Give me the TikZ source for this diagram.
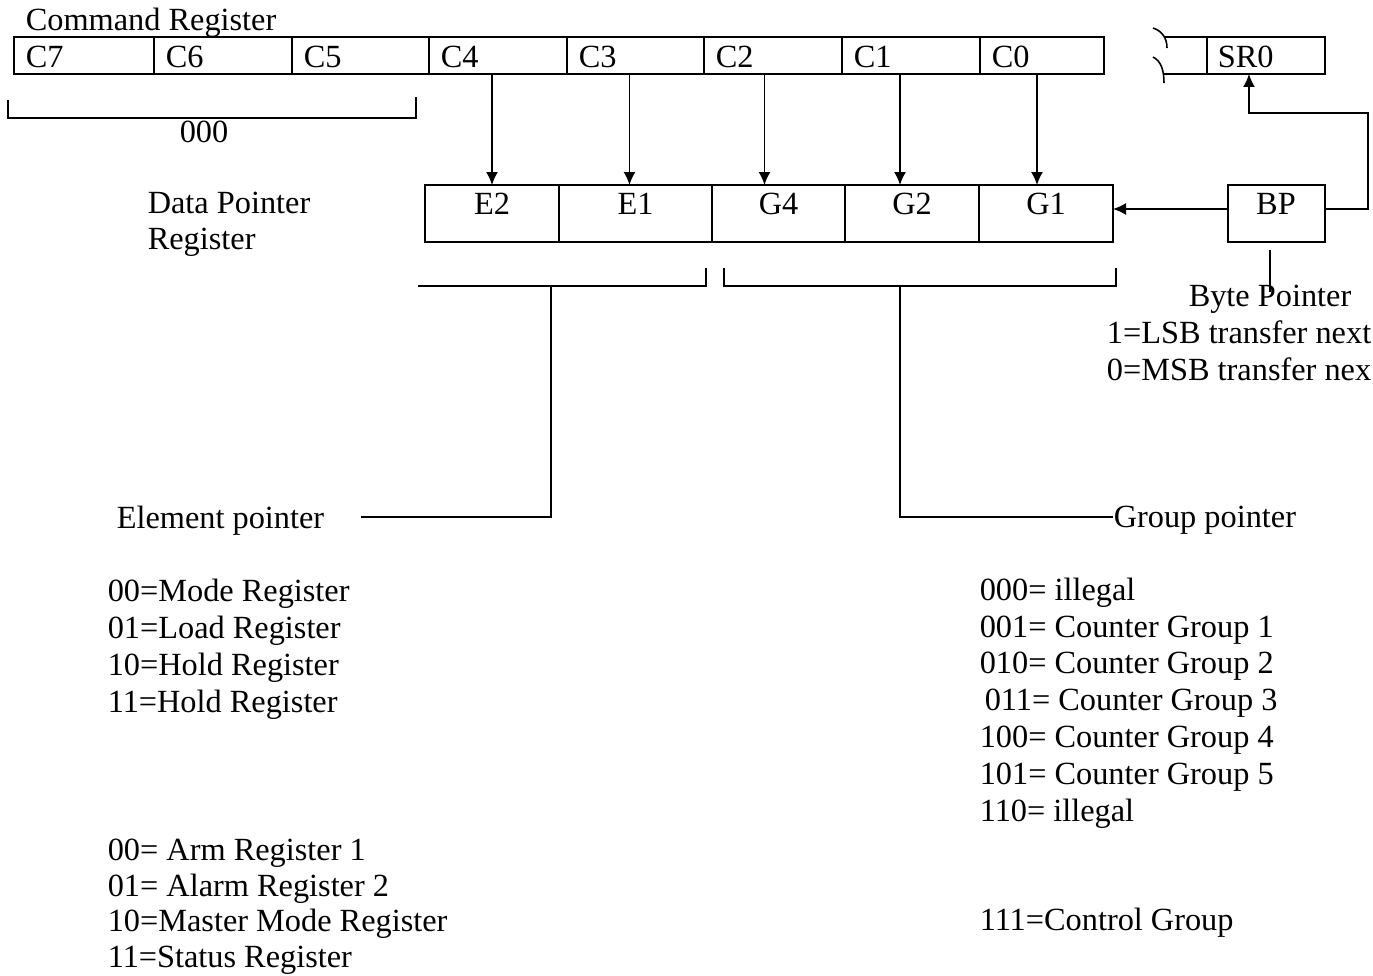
\documentclass[tikz,border=0pt]{standalone}
\usepackage{fontspec}
\setmainfont{Liberation Serif}
\usetikzlibrary{arrows.meta,positioning,calc}

\begin{document}
\begin{tikzpicture}[x=0.02cm, y=-0.02cm, line width=0.9pt,
  >={Latex[length=2.6mm,width=2.4mm]},
  txt/.style={font=\fontsize{18.4}{22}\selectfont, inner sep=0pt},
  cell/.style={draw, inner sep=0pt, outer sep=0pt, anchor=north west}]
\useasboundingbox (0,0) rectangle (1373,975);
% command register C7..C0
\node[txt, anchor=base west] (cmdlbl) at (25,30) {Command Register};
\foreach \xa/\xb/\n in {14/154/7,154/292/6,292/429/5,429/567/4,567/704/3,704/842/2,842/980/1,980/1104/0}{
  \node[cell, minimum width=(\xb-\xa)*0.02cm, minimum height=0.74cm] (c\n) at (\xa,37) {};
  \node[txt, anchor=base west] (c\n lbl) at (\xa+11,67) {C\n};
}
% status register, broken at the left
\node[cell, minimum width=2.36cm, minimum height=0.74cm] (sr0) at (1207,37) {};
\node[txt, anchor=base west] (sr0lbl) at (1217,67) {SR0};
\draw (sr0.north west) -- ++(-42,0);
\draw (sr0.south west) -- ++(-43,0);
\draw (1153,28) .. controls (1162,31) and (1167,38) .. (1167,48);
\draw (1153,57) .. controls (1161,61) and (1164,70) .. (1164,83);
% C7..C5 bracket
\draw (8,100) -- (8,118) -- (416,118) -- (416,97);
\node[txt, anchor=base] (zero) at (204,142) {000};
% data pointer register
\node[txt, anchor=base west] (dplbl) at (147,213) {Data Pointer};
\node[txt, anchor=base west] (dplbl2) at (147,249) {Register};
\foreach \xa/\xb/\n in {425/559/E2,559/712/E1,712/845/G4,845/979/G2,979/1113/G1}{
  \node[cell, minimum width=(\xb-\xa)*0.02cm, minimum height=1.14cm] (dp\n) at (\xa,185) {};
  \node[txt, anchor=base] (dp\n lbl) at ({(\xa+\xb)/2},214) {\n};
}
\foreach \c/\d/\s in {4/E2/0,3/E1/-0.12,2/G4/-0.28,1/G2/-0.24,0/G1/-0.18}
  \draw[->] ([xshift=\s cm]dp\d.north |- c\c.south) -- ([xshift=\s cm]dp\d.north);
% byte pointer
\node[cell, minimum width=1.94cm, minimum height=1.14cm] (bp) at (1228,185) {};
\node[txt, anchor=base] (bplbl) at (1276,214) {BP};
\draw[->] ([yshift=0.09cm]bp.west) -- ([yshift=0.09cm]bp.west -| dpG1.east);
\draw[->] ([yshift=0.09cm]bp.east) -- ++(43,0) -- ++(0,-96) -| ([xshift=-0.34cm]sr0.south);
\draw ([xshift=-0.13cm, yshift=-0.16cm]bp.south) -- ++(0,42);
\node[txt, anchor=base] (bytep) at (1270,306) {Byte Pointer};
\node[txt, anchor=base east] (lsb) at (1372,343) {1=LSB transfer next};
\node[txt, anchor=base east] (msb) at (1372,380) {0=MSB transfer nex};
% brackets under the pointer fields
\draw (418,286) -- (706,286) -- (706,268);
\draw (724,268) -- (724,286) -- (1116,286) -- (1116,268);
\coordinate (ebr) at (551,286);
\coordinate (gbr) at (900,286);
\node[txt, anchor=base west] (elem) at (116,528) {Element pointer};
\node[txt, anchor=base west] (grp) at (1113,527) {Group pointer};
\draw (ebr) |- ([xshift=0.72cm, yshift=0.06cm]elem.east);
\draw (gbr) |- ([yshift=0.06cm]grp.west);
% element codes
\foreach \y/\t [count=\i] in {601/00=Mode Register,638/01=Load Register,675/10=Hold Register,712/11=Hold Register,
  860/00= Arm Register 1,896/01= Alarm Register 2,931/10=Master Mode Register,967/11=Status Register}
  \node[txt, anchor=base west] (el\i) at (107,\y) {\t};
% group codes
\foreach \x/\y/\t [count=\i] in {979/600/000= illegal,979/637/001= Counter Group 1,979/673/010= Counter Group 2,
  984/710/011= Counter Group 3,979/747/100= Counter Group 4,979/784/101= Counter Group 5,979/821/110= illegal,
  979/930/111=Control Group}
  \node[txt, anchor=base west] (gr\i) at (\x,\y) {\t};
\end{tikzpicture}
\end{document}
